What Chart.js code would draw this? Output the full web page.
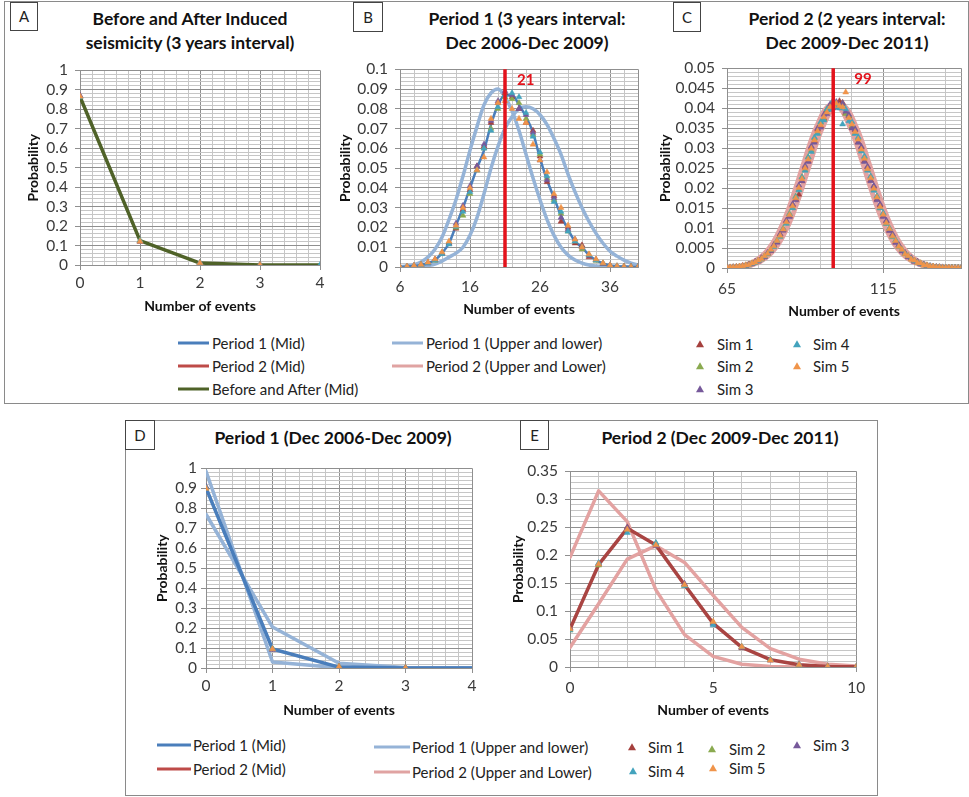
<!DOCTYPE html>
<html><head><meta charset="utf-8">
<script src="https://cdn.jsdelivr.net/npm/chart.js@4.4.1/dist/chart.umd.min.js"></script>
<style>
body{margin:0;background:#fff;width:969px;height:797px;position:relative;overflow:hidden;font-family:Lato,'Open Sans',sans-serif;}
canvas{position:absolute}
.frame{position:absolute;border:1px solid #8a8a8a;box-sizing:border-box}
.lbl{position:absolute;border:1px solid #444;box-sizing:border-box;font-size:15px;text-align:center;color:#222;background:#fff}
.ttl{position:absolute;font-weight:bold;font-size:17.5px;color:#111;white-space:nowrap;transform:translate(-50%,-50%)}
.leg{position:absolute;font-size:15px;color:#222;white-space:nowrap;transform:translateY(-50%)}
.sw{position:absolute;height:3px;transform:translateY(-50%)}
.tri{position:absolute;width:0;height:0;border-left:4px solid transparent;border-right:4px solid transparent;border-bottom-width:7px;border-bottom-style:solid;transform:translate(-50%,-55%)}
</style></head>
<body>
<div class="frame" style="left:4px;top:1px;width:965px;height:403px"></div>
<div class="frame" style="left:125px;top:420px;width:753px;height:376px"></div>

<div class="lbl" style="left:10px;top:2px;width:28px;height:29px;line-height:27px">A</div>
<div class="lbl" style="left:353px;top:2px;width:30px;height:30px;line-height:28px">B</div>
<div class="lbl" style="left:673px;top:2px;width:28px;height:30px;line-height:28px">C</div>
<div class="lbl" style="left:125px;top:420px;width:30px;height:30px;line-height:28px">D</div>
<div class="lbl" style="left:520px;top:420px;width:29px;height:30px;line-height:28px">E</div>

<div class="ttl" style="left:190px;top:18px">Before and After Induced</div>
<div class="ttl" style="left:190px;top:42px">seismicity (3 years interval)</div>
<div class="ttl" style="left:527px;top:18px">Period 1 (3 years interval:</div>
<div class="ttl" style="left:527px;top:42px">Dec 2006-Dec 2009)</div>
<div class="ttl" style="left:847px;top:18px">Period 2 (2 years interval:</div>
<div class="ttl" style="left:847px;top:42px">Dec 2009-Dec 2011)</div>
<div class="ttl" style="left:333px;top:437px">Period 1 (Dec 2006-Dec 2009)</div>
<div class="ttl" style="left:720px;top:437px">Period 2 (Dec 2009-Dec 2011)</div>

<canvas id="cA"></canvas>
<canvas id="cB"></canvas>
<canvas id="cC"></canvas>
<canvas id="cD"></canvas>
<canvas id="cE"></canvas>

<!-- top legends -->
<div class="sw" style="left:178px;top:343px;width:31px;background:#4A7EBB"></div>
<div class="leg" style="left:212px;top:343px">Period 1 (Mid)</div>
<div class="sw" style="left:178px;top:366px;width:31px;background:#BE4B48"></div>
<div class="leg" style="left:212px;top:366px">Period 2 (Mid)</div>
<div class="sw" style="left:178px;top:389px;width:31px;background:#4F6228"></div>
<div class="leg" style="left:212px;top:389px">Before and After (Mid)</div>
<div class="sw" style="left:392px;top:343px;width:31px;background:#95B3D7"></div>
<div class="leg" style="left:426px;top:343px">Period 1 (Upper and lower)</div>
<div class="sw" style="left:392px;top:366px;width:31px;background:#E0A3A2"></div>
<div class="leg" style="left:426px;top:366px">Period 2 (Upper and Lower)</div>
<div class="tri" style="left:700px;top:344px;border-bottom-color:#A5403D"></div>
<div class="leg" style="left:717px;top:344px">Sim 1</div>
<div class="tri" style="left:700px;top:366px;border-bottom-color:#8AAA50"></div>
<div class="leg" style="left:717px;top:366px">Sim 2</div>
<div class="tri" style="left:700px;top:389px;border-bottom-color:#76599A"></div>
<div class="leg" style="left:717px;top:389px">Sim 3</div>
<div class="tri" style="left:797px;top:344px;border-bottom-color:#43A3BD"></div>
<div class="leg" style="left:813px;top:344px">Sim 4</div>
<div class="tri" style="left:797px;top:366px;border-bottom-color:#F0944A"></div>
<div class="leg" style="left:813px;top:366px">Sim 5</div>

<!-- bottom legends -->
<div class="sw" style="left:157px;top:745px;width:34px;background:#4A7EBB"></div>
<div class="leg" style="left:193px;top:745px">Period 1 (Mid)</div>
<div class="sw" style="left:157px;top:769px;width:34px;background:#BE4B48"></div>
<div class="leg" style="left:193px;top:769px">Period 2 (Mid)</div>
<div class="sw" style="left:374px;top:747px;width:36px;background:#95B3D7"></div>
<div class="leg" style="left:412px;top:747px">Period 1 (Upper and lower)</div>
<div class="sw" style="left:374px;top:772px;width:36px;background:#E0A3A2"></div>
<div class="leg" style="left:412px;top:772px">Period 2 (Upper and Lower)</div>
<div class="tri" style="left:632px;top:747px;border-bottom-color:#A5403D"></div>
<div class="leg" style="left:648px;top:747px">Sim 1</div>
<div class="tri" style="left:712px;top:749px;border-bottom-color:#8AAA50"></div>
<div class="leg" style="left:729px;top:749px">Sim 2</div>
<div class="tri" style="left:797px;top:745px;border-bottom-color:#76599A"></div>
<div class="leg" style="left:813px;top:745px">Sim 3</div>
<div class="tri" style="left:633px;top:771px;border-bottom-color:#43A3BD"></div>
<div class="leg" style="left:648px;top:771px">Sim 4</div>
<div class="tri" style="left:713px;top:768px;border-bottom-color:#F0944A"></div>
<div class="leg" style="left:729px;top:768px">Sim 5</div>

<script>
// ---------- DATA ----------
// Panel A
const aX = [0, 1, 2, 3, 4];
const aBeforeAfterMid = [0.865, 0.125, 0.010, 0.0005, 0];
const aSim1 = [0.868, 0.122, 0.009, 0.001, null];
const aSim2 = [0.864, 0.126, 0.010, 0.0005, null];
const aSim3 = [0.870, 0.120, 0.011, 0.001, null];
const aSim4 = [0.862, 0.124, 0.012, 0.001, 0];
const aSim5 = [0.866, 0.121, 0.010, 0.0005, null];
const aXTickLabels = [0, 1, 2, 3, 4];
const aYTickLabels = [0, 0.1, 0.2, 0.3, 0.4, 0.5, 0.6, 0.7, 0.8, 0.9, 1];

// Panel B
const bX = [6,7,8,9,10,11,12,13,14,15,16,17,18,19,20,21,22,23,24,25,26,27,28,29,30,31,32,33,34,35,36,37,38,39,40];
const bP1Mid = [0,0.0002,0.0005,0.001,0.002,0.0035,0.007,0.012,0.021,0.030,0.040,0.050,0.059,0.072,0.082,0.087,0.087,0.082,0.076,0.068,0.055,0.044,0.035,0.026,0.019,0.013,0.010,0.006,0.0035,0.0018,0.0008,0.0004,0.0002,0.0001,0];
const bP1BoundA = [0.0002,0.0005,0.0012,0.0025,0.005,0.009,0.015,0.024,0.034,0.046,0.059,0.071,0.082,0.088,0.090,0.086,0.079,0.069,0.057,0.045,0.034,0.024,0.016,0.010,0.006,0.0035,0.002,0.001,0.0005,0.0002,0.0001,0,0,0,0];
const bP1BoundB = [0,0,0.0001,0.0003,0.0007,0.0015,0.003,0.005,0.007,0.010,0.016,0.025,0.037,0.050,0.061,0.070,0.076,0.080,0.081,0.080,0.077,0.072,0.065,0.057,0.047,0.038,0.030,0.023,0.017,0.012,0.008,0.0055,0.0035,0.002,0.001];
const bSim1 = [0,0.0002,0.0006,0.0011,0.0022,0.0038,0.0068,0.0118,0.0195,0.029,0.039,0.051,0.061,0.073,0.083,0.088,0.086,0.080,0.073,0.069,0.056,0.043,0.036,0.023,0.020,0.012,0.011,0.005,0.0035,0.0017,0.0008,0.0003,0.0002,0.0001,0];
const bSim2 = [0,0.0001,0.0004,0.0010,0.0021,0.0033,0.0072,0.0125,0.020,0.026,0.037,0.049,0.060,0.070,0.080,0.086,0.085,0.083,0.075,0.067,0.057,0.045,0.034,0.027,0.018,0.013,0.009,0.0062,0.0033,0.0018,0.0007,0.0004,0.0001,0.0001,0];
const bSim3 = [0.0001,0.0002,0.0005,0.0009,0.0019,0.0036,0.0070,0.0120,0.022,0.031,0.041,0.051,0.062,0.074,0.084,0.089,0.087,0.080,0.077,0.068,0.054,0.044,0.035,0.025,0.019,0.014,0.010,0.0058,0.0037,0.0016,0.0009,0.0004,0.0002,0.0001,0];
const bSim4 = [0,0.0002,0.0005,0.0010,0.0020,0.0034,0.0066,0.0115,0.0205,0.028,0.038,0.049,0.060,0.069,0.081,0.087,0.088,0.086,0.078,0.066,0.058,0.046,0.033,0.028,0.018,0.013,0.010,0.006,0.0034,0.0019,0.0008,0.0004,0.0002,0.0001,0];
const bSim5 = [0,0.0003,0.0007,0.0012,0.0024,0.0040,0.0075,0.013,0.021,0.030,0.040,0.049,0.0555,0.075,0.083,0.084,0.080,0.075,0.073,0.062,0.054,0.048,0.037,0.030,0.021,0.014,0.010,0.0065,0.0040,0.0020,0.0009,0.0004,0.0002,0.0001,0];
const bObserved = 21;
const bXTickLabels = [6, 16, 26, 36];
const bYTickLabels = [0, 0.01, 0.02, 0.03, 0.04, 0.05, 0.06, 0.07, 0.08, 0.09, 0.1];

// Panel C
const cX = [65,66,67,68,69,70,71,72,73,74,75,76,77,78,79,80,81,82,83,84,85,86,87,88,89,90,91,92,93,94,95,96,97,98,99,100,101,102,103,104,105,106,107,108,109,110,111,112,113,114,115,116,117,118,119,120,121,122,123,124,125,126,127,128,129,130,131,132,133,134,135,136,137,138,139,140];
const cP2BoundA = [0.00013,0.00018,0.00024,0.00033,0.00045,0.0006,0.0008,0.0011,0.0014,0.0018,
  0.0023,0.0029,0.0036,0.0045,0.0055,0.0067,0.0081,0.0097,0.0114,0.0133,
  0.0154,0.0176,0.0200,0.0224,0.0249,0.0273,0.0298,0.0321,0.0342,0.0359,
  0.0377,0.0392,0.0402,0.0408,0.0410,0.0408,0.0402,0.0392,0.0377,0.0359,
  0.0342,0.0321,0.0298,0.0273,0.0249,0.0224,0.0200,0.0176,0.0154,0.0133,
  0.0114,0.0097,0.0081,0.0067,0.0055,0.0045,0.0036,0.0029,0.0023,0.0018,
  0.0014,0.0011,0.0008,0.0006,0.00045,0.00033,0.00024,0.00018,0.00013,0.0001,
  0.00007,0.00005,0.00003,0.00002,0.00001,0.00001];
const cP2BoundB = [0.00007,0.0001,0.00013,0.00018,0.00024,0.00033,0.00045,0.0006,0.0008,0.0011,
  0.0014,0.0018,0.0023,0.0029,0.0036,0.0045,0.0055,0.0067,0.0081,0.0097,
  0.0114,0.0133,0.0154,0.0176,0.0200,0.0224,0.0249,0.0273,0.0298,0.0321,
  0.0342,0.0359,0.0377,0.0392,0.0402,0.0408,0.0410,0.0408,0.0402,0.0392,
  0.0377,0.0359,0.0342,0.0321,0.0298,0.0273,0.0249,0.0224,0.0200,0.0176,
  0.0154,0.0133,0.0114,0.0097,0.0081,0.0067,0.0055,0.0045,0.0036,0.0029,
  0.0023,0.0018,0.0014,0.0011,0.0008,0.0006,0.00045,0.00033,0.00024,0.00018,
  0.00013,0.0001,0.00007,0.00005,0.00003,0.00002];
const cSim1 = [0,0,0.0002,0.0002,0.0003,0.0005,0.0006,0.0009,0.0010,0.0015,0.0017,
  0.0024,0.0028,0.0037,0.0043,0.0057,0.0065,0.0084,0.0095,0.0118,0.0130,
  0.0158,0.0172,0.0184,0.0218,0.0252,0.0268,0.0302,0.0318,0.0347,0.0355,
  0.0374,0.0396,0.0398,0.0412,0.0405,0.0418,0.0414,0.0388,0.0380,0.0352,
  0.0346,0.0315,0.0302,0.0268,0.0253,0.0220,0.0204,0.0172,0.0157,0.0130,
  0.0117,0.0094,0.0083,0.0065,0.0057,0.0043,0.0037,0.0028,0.0024,0.0017,
  0.0015,0.0010,0.0008,0.0006,0.0004,0.0003,0.0002,0.0002,0.0001,0.0001,
  0,0,0,0,0];
const cSim2 = [0,0.0001,0.0001,0.0002,0.0004,0.0004,0.0007,0.0008,0.0012,0.0013,0.0019,
  0.0022,0.0030,0.0035,0.0046,0.0054,0.0069,0.0079,0.0099,0.0112,0.0136,
  0.0151,0.0179,0.0196,0.0228,0.0245,0.0278,0.0294,0.0325,0.0338,0.0364,
  0.0372,0.0397,0.0400,0.0412,0.0404,0.0402,0.0410,0.0386,0.0382,0.0355,
  0.0338,0.0325,0.0294,0.0277,0.0246,0.0228,0.0196,0.0179,0.0150,0.0136,
  0.0111,0.0099,0.0078,0.0069,0.0053,0.0046,0.0035,0.0030,0.0022,0.0019,
  0.0013,0.0012,0.0007,0.0007,0.0004,0.0004,0.0002,0.0002,0.0001,0.0001,
  0,0.0001,0,0,0];
const cSim3 = [0.0001,0.0001,0.0002,0.0003,0.0003,0.0005,0.0005,0.0009,0.0010,0.0016,0.0017,
  0.0025,0.0027,0.0038,0.0043,0.0058,0.0064,0.0085,0.0094,0.0119,0.0128,
  0.0160,0.0170,0.0207,0.0218,0.0256,0.0266,0.0305,0.0314,0.0350,0.0352,
  0.0384,0.0386,0.0410,0.0400,0.0416,0.0402,0.0412,0.0392,0.0384,0.0350,
  0.0348,0.0314,0.0304,0.0266,0.0254,0.0218,0.0206,0.0170,0.0160,0.0128,
  0.0119,0.0093,0.0085,0.0063,0.0058,0.0042,0.0038,0.0027,0.0025,0.0016,
  0.0016,0.0009,0.0009,0.0005,0.0005,0.0003,0.0003,0.0002,0.0002,0.0001,
  0.0001,0,0,0,0];
const cSim4 = [0,0.0001,0.0002,0.0002,0.0003,0.0004,0.0006,0.0007,0.0011,0.0013,0.0018,
  0.0022,0.0029,0.0035,0.0045,0.0053,0.0068,0.0079,0.0098,0.0111,0.0135,
  0.0150,0.0178,0.0195,0.0227,0.0244,0.0277,0.0291,0.0327,0.0336,0.0366,
  0.0370,0.0398,0.0396,0.0420,0.0404,0.0400,0.0360,0.0398,0.0368,0.0366,
  0.0336,0.0328,0.0292,0.0280,0.0244,0.0230,0.0194,0.0180,0.0150,0.0138,
  0.0111,0.0100,0.0079,0.0070,0.0054,0.0046,0.0036,0.0030,0.0023,0.0018,
  0.0014,0.0011,0.0008,0.0006,0.0005,0.0003,0.0002,0.0002,0.0001,0.0001,
  0,0,0,0,0];
const cSim5 = [0.0001,0.0002,0.0002,0.0003,0.0004,0.0005,0.0007,0.0008,0.0012,0.0014,0.0019,
  0.0023,0.0030,0.0036,0.0046,0.0055,0.0068,0.0081,0.0097,0.0115,0.0133,
  0.0155,0.0175,0.0201,0.0223,0.0250,0.0272,0.0299,0.0320,0.0343,0.0358,
  0.0378,0.0390,0.0403,0.0406,0.0412,0.0406,0.0403,0.0440,0.0376,0.0360,
  0.0341,0.0322,0.0297,0.0274,0.0248,0.0225,0.0199,0.0177,0.0153,0.0134,
  0.0113,0.0098,0.0080,0.0068,0.0054,0.0046,0.0035,0.0030,0.0022,0.0019,
  0.0013,0.0012,0.0007,0.0007,0.0004,0.0004,0.0002,0.0002,0.0001,0.0001,
  0.0001,0,0,0,0];
const cObserved = 99;
const cXTickLabels = [65, 115];
const cYTickLabels = [0, 0.005, 0.01, 0.015, 0.02, 0.025, 0.03, 0.035, 0.04, 0.045, 0.05];

// Panel D
const dX = [0, 1, 2, 3, 4];
const dP1Mid = [0.902, 0.095, 0.0045, 0.0002, 0];
const dP1BoundA = [0.985, 0.030, 0.001, 0, 0];
const dP1BoundB = [0.770, 0.205, 0.024, 0.002, 0.0001];
const dSim1 = [0.905, 0.094, 0.005, 0.0003, null];
const dSim2 = [0.900, 0.097, 0.006, 0.0002, null];
const dSim3 = [0.908, 0.092, 0.004, 0.0003, null];
const dSim4 = [0.903, 0.096, 0.005, 0.0002, null];
const dSim5 = [0.899, 0.095, 0.006, 0.0004, null];
const dXTickLabels = [0, 1, 2, 3, 4];
const dYTickLabels = [0, 0.1, 0.2, 0.3, 0.4, 0.5, 0.6, 0.7, 0.8, 0.9, 1];

// Panel E
const eX = [0, 1, 2, 3, 4, 5, 6, 7, 8, 9, 10];
const eP2Mid = [0.068, 0.183, 0.248, 0.218, 0.147, 0.078, 0.035, 0.013, 0.004, 0.001, 0.0003];
const eP2BoundA = [0.196, 0.315, 0.260, 0.138, 0.058, 0.019, 0.005, 0.001, 0.0002, 0, 0];
const eP2BoundB = [0.035, 0.113, 0.193, 0.217, 0.187, 0.128, 0.071, 0.033, 0.014, 0.005, 0.0018];
const eSim1 = [0.070, 0.184, 0.250, 0.219, 0.148, 0.079, 0.034, 0.012, 0.004, 0.001, 0.0003];
const eSim2 = [0.066, 0.182, 0.246, 0.221, 0.146, 0.080, 0.036, 0.013, 0.004, 0.001, 0.0002];
const eSim3 = [0.069, 0.185, 0.249, 0.217, 0.149, 0.077, 0.035, 0.012, 0.005, 0.0012, 0.0003];
const eSim4 = [0.066, 0.186, 0.240, 0.222, 0.145, 0.075, 0.036, 0.013, 0.004, 0.001, 0.0003];
const eSim5 = [0.068, 0.184, 0.246, 0.218, 0.147, 0.081, 0.036, 0.012, 0.004, 0.001, 0.0005];
const eXTickLabels = [0, 5, 10];
const eYTickLabels = [0, 0.05, 0.1, 0.15, 0.2, 0.25, 0.3, 0.35];

// ---------- STYLE ----------
const FONT = 'Lato';
const TICK_SIZE = 15.5, AXT_SIZE = 14;
const C_P1MID = '#4A7EBB', C_P2MID = '#A94442', C_BA = '#4F6228';
const C_P1B = '#95B3D7', C_P2B = '#E3A2A1', C_RED = '#E3121B';
const SIMC = ['#A5403D', '#8AAA50', '#76599A', '#43A3BD', '#F0944A'];
const MAJ = '#8f8f8f', MIN = '#c6c6c6';

const pts = (xs, ys) => xs.map((x, i) => ({x: x, y: ys[i]}));
function lineDs(xs, ys, color, width, order, smooth) {
  return {data: pts(xs, ys), borderColor: color, backgroundColor: color, borderWidth: width,
    pointRadius: 0, pointHoverRadius: 0, tension: 0,
    cubicInterpolationMode: smooth ? 'monotone' : 'default', order: order, fill: false,
    borderJoinStyle: 'round', borderCapStyle: 'round'};
}
function simDs(xs, ys, idx, r) {
  const c = SIMC[idx];
  return {data: pts(xs, ys), showLine: false, pointStyle: 'triangle', pointRadius: r || 3.5,
    pointHoverRadius: 0, pointBackgroundColor: c, pointBorderColor: c, pointBorderWidth: 0.5,
    borderColor: c, backgroundColor: c, order: 5 - idx};
}
function sims(xs, arrs, r) { return arrs.map((a, i) => simDs(xs, a, i, r)); }

const isIn = (v, list) => list.some(t => Math.abs(t - v) < 1e-9);
const fmt = v => String(parseFloat(Number(v).toFixed(4)));

const redLabel = {
  id: 'redLabel',
  afterDatasetsDraw(chart, args, opts) {
    if (!opts || !opts.text) return;
    const {ctx, scales} = chart;
    ctx.save();
    ctx.font = 'bold 15px ' + FONT;
    ctx.fillStyle = C_RED;
    ctx.textBaseline = 'middle';
    ctx.textAlign = 'left';
    ctx.fillText(opts.text, scales.x.getPixelForValue(opts.x) + opts.dx, scales.y.getPixelForValue(opts.y));
    ctx.restore();
  }
};

function mkScale(o) {
  return {
    type: 'linear', position: o.pos, min: o.min, max: o.max,
    afterBuildTicks: s => {
      const t = [];
      for (let k = 0; ; k++) {
        const v = +(o.min + k * o.step).toFixed(6);
        if (v > o.max + 1e-9) break;
        t.push(v);
      }
      if (Math.abs(t[t.length - 1] - o.max) > 1e-9) t.push(o.max);
      s.ticks = t.map(v => ({value: v}));
    },
    afterFit: s => { if (o.pos === 'left') s.width = o.size; else s.height = o.size; },
    ticks: {autoSkip: false, maxRotation: 0, minRotation: 0, padding: o.pad, color: '#3a3a3a',
      font: {family: FONT, size: TICK_SIZE},
      callback: v => isIn(v, o.labels) ? fmt(v) : ''},
    grid: {
      lineWidth: 1, tickLength: o.tl, drawTicks: true,
      color: c => (c.tick && (isIn(c.tick.value, o.labels) || Math.abs(c.tick.value - o.max) < 1e-9 || Math.abs(c.tick.value - o.min) < 1e-9)) ? MAJ : MIN,
      tickColor: c => (c.tick && isIn(c.tick.value, o.labels)) ? MAJ : 'rgba(0,0,0,0)'
    },
    border: {display: true, color: MAJ, width: 1},
    title: {display: true, text: o.title, color: '#111', padding: {top: 0, bottom: 0},
      font: {family: FONT, size: AXT_SIZE, weight: 'bold'}}
  };
}

function makeChart(id, g, datasets, red) {
  const halfT = AXT_SIZE * 1.2 / 2, halfK = TICK_SIZE * 1.2 / 2;
  const cl = Math.round(g.yTitleX - halfT);
  const ct = g.T - 12;
  const W = g.R + g.pr - cl;
  const bottomAbs = Math.round(g.xTitleY + halfT);
  const H = bottomAbs - ct;
  const cv = document.getElementById(id);
  cv.width = W; cv.height = H;
  cv.style.left = cl + 'px'; cv.style.top = ct + 'px';
  const tl = 5;
  new Chart(cv, {
    type: 'line',
    data: {datasets: datasets},
    options: {
      responsive: false, animation: false, devicePixelRatio: 1, events: [],
      layout: {autoPadding: false, padding: {left: 0, top: 12, right: g.pr, bottom: 0}},
      plugins: {legend: {display: false}, tooltip: {enabled: false}, redLabel: red || {}},
      scales: {
        x: mkScale({pos: 'bottom', min: g.xMin, max: g.xMax, step: g.xStep, labels: g.xLabels,
          size: bottomAbs - g.B, tl: tl, pad: g.xTickY - g.B - halfK - tl, title: 'Number of events'}),
        y: mkScale({pos: 'left', min: g.yMin, max: g.yMax, step: g.yStep, labels: g.yLabels,
          size: g.L - cl, tl: tl, pad: g.yGap - tl, title: 'Probability'})
      }
    },
    plugins: [redLabel]
  });
}

// Panel A
makeChart('cA', {L: 80, T: 66, R: 320, B: 265, yTitleX: 33, xTitleY: 307, xTickY: 283, yGap: 12, pr: 10,
  xMin: 0, xMax: 4, xStep: 0.2, xLabels: aXTickLabels, yMin: 0, yMax: 1, yStep: 0.02, yLabels: aYTickLabels},
  [...sims(aX, [aSim1, aSim2, aSim3, aSim4, aSim5]),
   lineDs(aX, aBeforeAfterMid, C_BA, 3.5, 6, false)]);

// Panel B
makeChart('cB', {L: 400, T: 65, R: 638, B: 267, yTitleX: 345, xTitleY: 310, xTickY: 287, yGap: 12, pr: 12,
  xMin: 6, xMax: 40, xStep: 2, xLabels: bXTickLabels, yMin: 0, yMax: 0.1, yStep: 0.002, yLabels: bYTickLabels},
  [lineDs([bObserved, bObserved], [0, 0.1], C_RED, 3.5, 0, false),
   ...sims(bX, [bSim1, bSim2, bSim3, bSim4, bSim5], 3.4),
   lineDs(bX, bP1Mid, C_P1MID, 2.5, 6, true),
   lineDs(bX, bP1BoundA, C_P1B, 3.5, 7, true),
   lineDs(bX, bP1BoundB, C_P1B, 3.5, 8, true)],
  {text: String(bObserved), x: bObserved, y: 0.0945, dx: 12});

// Panel C
makeChart('cC', {L: 727, T: 64, R: 963, B: 268, yTitleX: 665, xTitleY: 312, xTickY: 289, yGap: 12, pr: 5,
  xMin: 65, xMax: 140, xStep: 10, xLabels: cXTickLabels, yMin: 0, yMax: 0.05, yStep: 0.001, yLabels: cYTickLabels},
  [lineDs([cObserved, cObserved], [0, 0.05], C_RED, 3.5, 0, false),
   ...sims(cX, [cSim1, cSim2, cSim3, cSim4, cSim5], 3.4),
   lineDs(cX, cP2BoundA, C_P2B, 5, 7, true),
   lineDs(cX, cP2BoundB, C_P2B, 5, 8, true)],
  {text: String(cObserved), x: cObserved, y: 0.0473, dx: 21});

// Panel D
makeChart('cD', {L: 206, T: 467, R: 472, B: 668, yTitleX: 162, xTitleY: 711, xTickY: 686, yGap: 9, pr: 10,
  xMin: 0, xMax: 4, xStep: 0.2, xLabels: dXTickLabels, yMin: 0, yMax: 1, yStep: 0.02, yLabels: dYTickLabels},
  [...sims(dX, [dSim1, dSim2, dSim3, dSim4, dSim5]),
   lineDs(dX, dP1Mid, C_P1MID, 3.5, 6, false),
   lineDs(dX, dP1BoundA, C_P1B, 3.5, 7, false),
   lineDs(dX, dP1BoundB, C_P1B, 3.5, 8, false)]);

// Panel E
makeChart('cE', {L: 570, T: 467, R: 860, B: 667, yTitleX: 518, xTitleY: 711, xTickY: 688, yGap: 12, pr: 12,
  xMin: 0, xMax: 10, xStep: 1, xLabels: eXTickLabels, yMin: 0, yMax: 0.35, yStep: 0.01, yLabels: eYTickLabels},
  [...sims(eX, [eSim1, eSim2, eSim3, eSim4, eSim5]),
   lineDs(eX, eP2Mid, C_P2MID, 3.5, 6, false),
   lineDs(eX, eP2BoundA, C_P2B, 3.5, 7, false),
   lineDs(eX, eP2BoundB, C_P2B, 3.5, 8, false)]);
</script>
</body></html>
